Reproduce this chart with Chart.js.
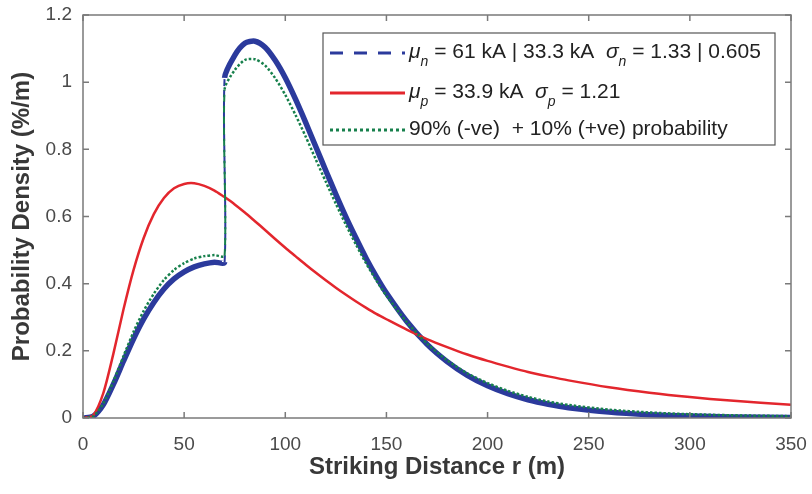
<!DOCTYPE html>
<html>
<head>
<meta charset="utf-8">
<script src="https://cdn.jsdelivr.net/npm/chart.js@4.4.1/dist/chart.umd.min.js"></script>
<style>
  body { margin: 0; background: #fff; }
  canvas { display: block; }
</style>
</head>
<body>
<canvas id="chart" width="812" height="494"></canvas>
<script>
// striking distance r (m); 70 appears twice for the step at I = 20 kA
var distance = [0, 5, 10, 15, 20, 25, 30, 35, 40, 45, 50, 55, 60, 65, 70, 70,
  75, 80, 85, 90, 95, 100, 105, 110, 115, 120, 125, 130, 135, 140, 145, 150,
  160, 170, 180, 190, 200, 210, 220, 230, 240, 260, 280, 300, 320, 350];

// probability density (%/m)
var negative = [0, 0.0048, 0.039, 0.100, 0.169, 0.236, 0.295, 0.344, 0.384, 0.414, 0.435, 0.450, 0.459, 0.464, 0.464, 1.013,
  1.080, 1.116, 1.122, 1.104, 1.065, 1.013, 0.950, 0.881, 0.809, 0.737, 0.666, 0.598, 0.535, 0.475, 0.421, 0.372,
  0.288, 0.220, 0.168, 0.127, 0.096, 0.0725, 0.0544, 0.041, 0.0308, 0.0175, 0.010, 0.0057, 0.0033, 0.0015];

var positive = [0, 0.0076, 0.0732, 0.191, 0.323, 0.441, 0.536, 0.607, 0.655, 0.684, 0.697, 0.699, 0.691, 0.677, 0.658, 0.658,
  0.636, 0.612, 0.586, 0.560, 0.533, 0.507, 0.482, 0.457, 0.433, 0.410, 0.388, 0.367, 0.347, 0.328, 0.310, 0.294,
  0.263, 0.235, 0.211, 0.189, 0.170, 0.153, 0.137, 0.124, 0.112, 0.0915, 0.0753, 0.0623, 0.0519, 0.0397];

var combined = [0, 0.0051, 0.043, 0.109, 0.184, 0.257, 0.319, 0.370, 0.411, 0.441, 0.461, 0.475, 0.482, 0.485, 0.483, 0.978,
  1.036, 1.066, 1.068, 1.050, 1.012, 0.962, 0.903, 0.839, 0.771, 0.704, 0.638, 0.575, 0.516, 0.460, 0.410, 0.364,
  0.286, 0.222, 0.172, 0.133, 0.104, 0.081, 0.063, 0.049, 0.039, 0.025, 0.0165, 0.0113, 0.0082, 0.0054];

var xTicks = [0, 50, 100, 150, 200, 250, 300, 350];
var yTicks = [0, 0.2, 0.4, 0.6, 0.8, 1, 1.2];

var BLUE = '#2b3a9c';
var RED = '#e3262d';
var GREEN = '#17804c';
var FONT = "'Liberation Sans', Arial, sans-serif";

function points(values) {
  return distance.map(function(d, i) { return { x: d, y: values[i] }; });
}

// thin dashed stroke for the vertical step
var stepSegment = {
  borderWidth: function(c) { return c.p0.parsed.x === c.p1.parsed.x ? 2 : undefined; },
  borderDash: function(c) { return c.p0.parsed.x === c.p1.parsed.x ? [7, 4] : undefined; }
};

var legendRows = [
  { color: BLUE, dash: [13, 11], width: 3, parts: [
    { t: 'μ', it: true }, { t: 'n', sub: true }, { t: ' = 61 kA | 33.3 kA  ' },
    { t: 'σ', it: true }, { t: 'n', sub: true }, { t: ' = 1.33 | 0.605' }] },
  { color: RED, dash: [], width: 3, parts: [
    { t: 'μ', it: true }, { t: 'p', sub: true }, { t: ' = 33.9 kA  ' },
    { t: 'σ', it: true }, { t: 'p', sub: true }, { t: ' = 1.21' }] },
  { color: GREEN, dash: [3, 3], width: 3, parts: [
    { t: '90% (-ve)  + 10% (+ve) probability' }] }
];

var framePlugin = {
  id: 'frame',
  afterDraw: function(chart) {
    var ctx = chart.ctx;
    var a = chart.chartArea;
    var sx = chart.scales.x, sy = chart.scales.y;
    ctx.save();
    ctx.strokeStyle = '#7a7a7a';
    ctx.lineWidth = 1.5;
    ctx.strokeRect(a.left, a.top, a.right - a.left, a.bottom - a.top);
    ctx.beginPath();
    xTicks.forEach(function(v) {
      var px = sx.getPixelForValue(v);
      ctx.moveTo(px, a.bottom); ctx.lineTo(px, a.bottom - 6);
      ctx.moveTo(px, a.top); ctx.lineTo(px, a.top + 6);
    });
    yTicks.forEach(function(v) {
      var py = sy.getPixelForValue(v);
      ctx.moveTo(a.left, py); ctx.lineTo(a.left + 6, py);
      ctx.moveTo(a.right, py); ctx.lineTo(a.right - 6, py);
    });
    ctx.stroke();

    // legend box
    var boxW = 452, boxH = 112;
    var bx = a.right - 16 - boxW, by = a.top + 18;
    ctx.fillStyle = '#fff';
    ctx.fillRect(bx, by, boxW, boxH);
    ctx.strokeStyle = '#555';
    ctx.lineWidth = 1.2;
    ctx.strokeRect(bx, by, boxW, boxH);

    var rowY = [by + 19, by + 59, by + 96];
    legendRows.forEach(function(row, i) {
      var y = rowY[i];
      ctx.beginPath();
      ctx.strokeStyle = row.color;
      ctx.lineWidth = row.width;
      ctx.setLineDash(row.dash);
      ctx.moveTo(bx + 7, y + 1);
      ctx.lineTo(bx + 82, y + 1);
      ctx.stroke();
      ctx.setLineDash([]);

      var x = bx + 86;
      ctx.fillStyle = '#222';
      ctx.textBaseline = 'middle';
      ctx.textAlign = 'left';
      row.parts.forEach(function(p) {
        if (p.sub) {
          ctx.font = 'italic 14px ' + FONT;
          ctx.fillText(p.t, x, y + 10);
        } else {
          ctx.font = (p.it ? 'italic ' : '') + '21px ' + FONT;
          ctx.fillText(p.t, x, y);
        }
        x += ctx.measureText(p.t).width;
      });
    });
    ctx.restore();
  }
};

// let layout.padding alone decide the plot edges
function noLabelPadding(s) {
  s.paddingTop = 0; s.paddingBottom = 0; s.paddingLeft = 0; s.paddingRight = 0;
}

var tickStyle = { color: '#4a4a4a', font: { family: FONT, size: 19 } };
var titleStyle = { color: '#383838', font: { family: FONT, size: 24, weight: 'bold' } };

new Chart(document.getElementById('chart'), {
  type: 'line',
  data: {
    datasets: [
      { label: 'negative', data: points(negative), borderColor: BLUE, borderWidth: 5.5,
        segment: stepSegment, order: 3 },
      { label: 'positive', data: points(positive), borderColor: RED, borderWidth: 2.5, order: 2 },
      { label: 'combined', data: points(combined), borderColor: GREEN, borderWidth: 2.5,
        borderDash: [2.5, 2], segment: stepSegment, order: 1 }
    ]
  },
  options: {
    responsive: false,
    animation: false,
    parsing: false,
    elements: { point: { radius: 0 }, line: { tension: 0.25, fill: false } },
    layout: { padding: { left: 0, right: 21, top: 15, bottom: 0 } },
    plugins: { legend: { display: false }, tooltip: { enabled: false } },
    scales: {
      x: {
        type: 'linear', min: 0, max: 350,
        afterFit: function(s) { s.height = 76; noLabelPadding(s); },
        afterBuildTicks: function(s) { s.ticks = xTicks.map(function(v) { return { value: v }; }); },
        ticks: Object.assign({ padding: 15, maxRotation: 0,
          callback: function(v) { return String(v); } }, tickStyle),
        grid: { display: false, drawTicks: false },
        border: { display: false },
        title: Object.assign({ display: true, text: 'Striking Distance r (m)', padding: { bottom: 12 } }, titleStyle)
      },
      y: {
        type: 'linear', min: 0, max: 1.2,
        afterFit: function(s) { s.width = 83; noLabelPadding(s); },
        afterBuildTicks: function(s) { s.ticks = yTicks.map(function(v) { return { value: v }; }); },
        ticks: Object.assign({ padding: 11,
          callback: function(v) { return String(Math.round(v * 10) / 10); } }, tickStyle),
        grid: { display: false, drawTicks: false },
        border: { display: false },
        title: Object.assign({ display: true, text: 'Probability Density (%/m)', padding: { top: 8 } }, titleStyle)
      }
    }
  },
  plugins: [framePlugin]
});
</script>
</body>
</html>
